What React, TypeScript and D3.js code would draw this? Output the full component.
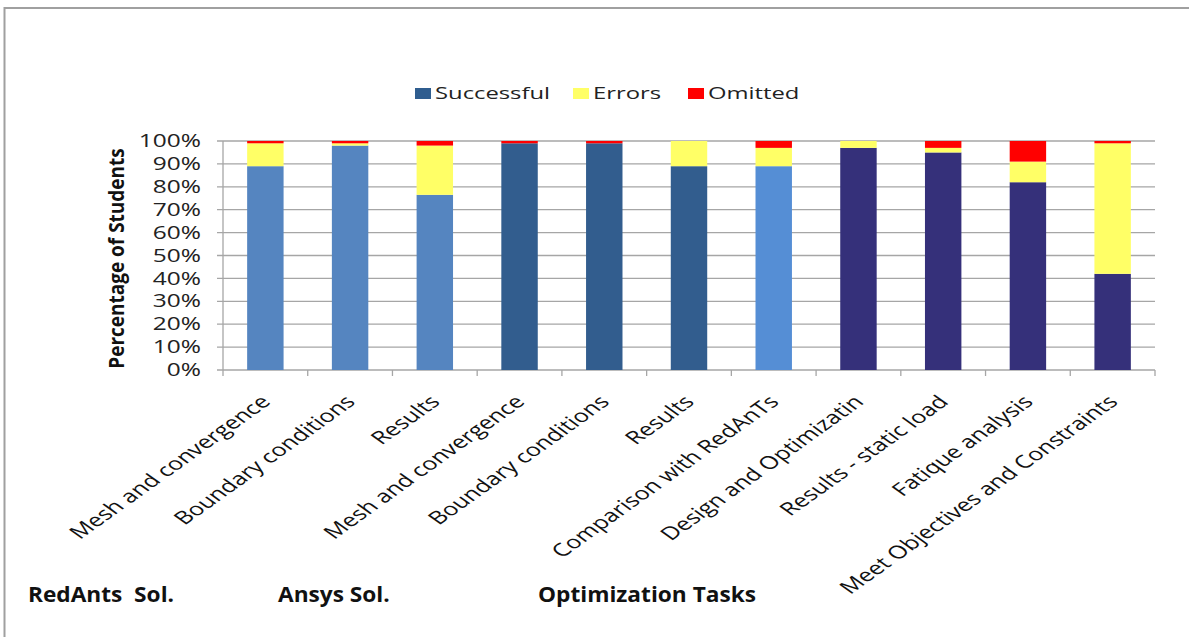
import React from "react";
import * as d3 from "d3";

const categories = [
  "Mesh and convergence",
  "Boundary conditions",
  "Results",
  "Mesh and convergence",
  "Boundary conditions",
  "Results",
  "Comparison with RedAnTs",
  "Design and Optimizatin",
  "Results - static load",
  "Fatique analysis",
  "Meet Objectives and Constraints",
];
const groups = ["redants", "redants", "redants", "ansys", "ansys", "ansys", "compare", "opt", "opt", "opt", "opt"];
const successful = [89, 98, 76.5, 99, 99, 89, 89, 97, 95, 82, 42];
const errors = [10, 1, 21.5, 0, 0, 11, 8, 3, 2, 9, 57];
const omitted = [1, 1, 2, 1, 1, 0, 3, 0, 3, 9, 1];
const seriesNames = ["Successful", "Errors", "Omitted"];
const yTicks = [0, 10, 20, 30, 40, 50, 60, 70, 80, 90, 100];
const sectionLabels = ["RedAnts  Sol.", "Ansys Sol.", "Optimization Tasks"];

const W = 1189;
const H = 637;
const SX = 1.4;
const FONT = "'Open Sans', sans-serif";
const groupColor: Record<string, string> = {
  redants: "#5585C0",
  ansys: "#325D8E",
  compare: "#558ED5",
  opt: "#35307A",
};
const errColor = "#FFFF66";
const omitColor = "#FF0000";
const gridColor = "#A6A6A6";

export default function App() {
  const x = d3.scaleBand<number>().domain(d3.range(categories.length)).range([223, 1155]).paddingInner(0.57).paddingOuter(0.285);
  const step = (1155 - 223) / categories.length;
  const y = d3.scaleLinear().domain([0, 100]).range([370, 141]);
  const bw = x.bandwidth();

  const bars: JSX.Element[] = [];
  categories.forEach((c, i) => {
    const x0 = x(i)!;
    const s = successful[i], e = errors[i], o = omitted[i];
    bars.push(<rect key={"s" + i} x={x0} width={bw} y={y(s)} height={y(0) - y(s)} fill={groupColor[groups[i]]} />);
    if (e > 0) bars.push(<rect key={"e" + i} x={x0} width={bw} y={y(s + e)} height={y(s) - y(s + e)} fill={errColor} />);
    if (o > 0) bars.push(<rect key={"o" + i} x={x0} width={bw} y={y(s + e + o)} height={y(s + e) - y(s + e + o)} fill={omitColor} />);
  });

  const legendItems = [
    { name: seriesNames[0], color: "#2F5D8F", sq: 415 },
    { name: seriesNames[1], color: errColor, sq: 573 },
    { name: seriesNames[2], color: omitColor, sq: 688 },
  ];

  return (
    <svg width={W} height={H} style={{ position: "absolute", left: 0, top: 0, background: "#fff" }}>
      <rect x={0} y={0} width={W} height={H} fill="#fff" />
      <path d={`M4.5,${H} L4.5,8 L${W},8`} fill="none" stroke="#A0A0A0" strokeWidth={2} />

      {/* grid */}
      {yTicks.map((t) => (
        <line key={"g" + t} x1={217} x2={1155} y1={y(t)} y2={y(t)} stroke={gridColor} strokeWidth={1.3} />
      ))}
      <line x1={223} x2={223} y1={y(100)} y2={y(0)} stroke={gridColor} strokeWidth={1.3} />
      {d3.range(categories.length + 1).map((i) => (
        <line key={"xt" + i} x1={223 + i * step} x2={223 + i * step} y1={y(0)} y2={y(0) + 6} stroke={gridColor} strokeWidth={1.3} />
      ))}

      {bars}

      {/* y tick labels */}
      {yTicks.map((t) => (
        <text key={"yl" + t} transform={`translate(201,${y(t)}) scale(${SX},1)`} textAnchor="end" dy="0.35em" fontFamily={FONT} fontSize={17.5} fill="#222">
          {t + "%"}
        </text>
      ))}

      {/* y title */}
      <text transform={`translate(117,${(y(0) + y(100)) / 2 + 3}) scale(1.12,1) rotate(-90)`} textAnchor="middle" dy="0.35em" fontFamily={FONT} fontWeight="bold" fontSize={19} fill="#111">
        Percentage of Students
      </text>

      {/* x labels */}
      {categories.map((c, i) => (
        <text key={"xl" + i} transform={`translate(${x(i)! + bw / 2 - 6},${y(0) + 24}) scale(${SX},1) rotate(-45)`} textAnchor="end" dy="0.7em" fontFamily={FONT} fontSize={18} fill="#111">
          {c}
        </text>
      ))}

      {/* legend */}
      {legendItems.map((l) => (
        <g key={l.name}>
          <rect x={l.sq} y={88} width={16} height={11} fill={l.color} />
          <text transform={`translate(${l.sq + 20},93) scale(${SX},1)`} dy="0.36em" fontFamily={FONT} fontSize={17} fill="#222">
            {l.name}
          </text>
        </g>
      ))}

      {/* section labels */}
      {sectionLabels.map((s, i) => (
        <text key={"sec" + i} transform={`translate(${[28, 278, 538][i]},602) scale(1.08,1)`} fontFamily={FONT} fontWeight="bold" fontSize={21} fill="#111" style={{ whiteSpace: "pre" }}>
          {s}
        </text>
      ))}
    </svg>
  );
}
